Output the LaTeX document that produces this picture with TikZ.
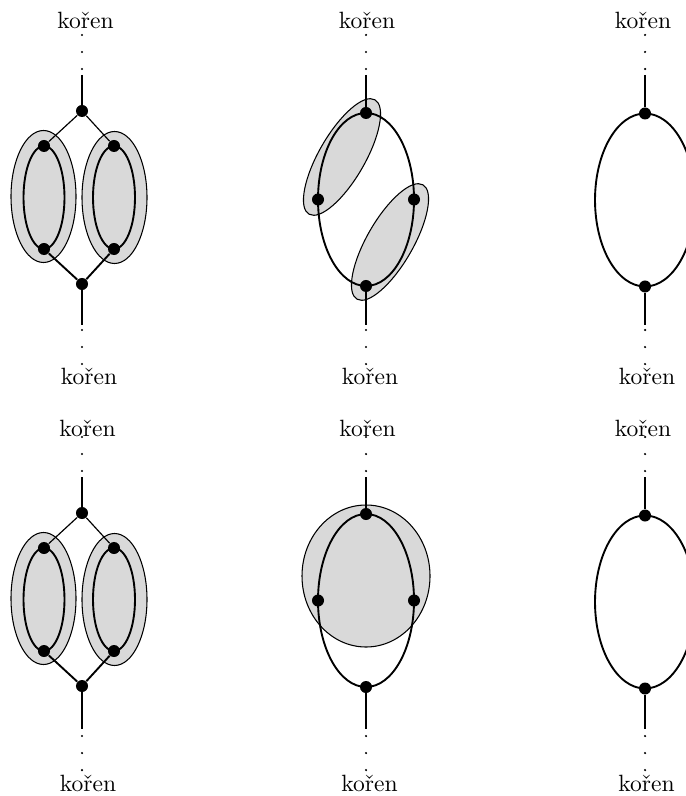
\documentclass[tikz,border=0pt]{standalone}
\begin{document}
\begin{tikzpicture}[x=0.4246pt,y=-0.4246pt,
  vtx/.style={circle,fill=black,inner sep=0pt,minimum size=5.1pt},
  stem/.style={line width=0.85pt},
  dotline/.style={line width=1.05pt,line cap=round,dash pattern=on 0pt off 7.22pt},
  loopline/.style={line width=0.8pt},
  blob/.style={draw=black,line width=0.45pt,fill=black!15},
  thinedge/.style={line width=0.5pt},
  thickedge/.style={line width=0.8pt},
  lab/.style={inner sep=0pt}]
\useasboundingbox (0,0) rectangle (685,796);

% ---------------- Panel 1 (top left) ----------------
\node[lab] (L1t) at (85.5,20) {kořen};
\node[lab] (L1b) at (89,376) {kořen};
\coordinate (d1t) at (82,35);
\coordinate (s1t) at (82,75);
\coordinate (s1b) at (82,325);
\coordinate (d1b) at (82,330);
\coordinate (e1b) at (82,367);
\draw[blob] (43.5,196.5) ellipse [x radius=32.5,y radius=66];
\draw[blob] (114.5,197.5) ellipse [x radius=32.5,y radius=66];
\draw[loopline] (44,197.5) ellipse [x radius=20.5,y radius=51.5];
\draw[loopline] (114,197.5) ellipse [x radius=21,y radius=51.5];
\node[vtx] (v1t) at (82,111) {};
\node[vtx] (v1a) at (44,146) {};
\node[vtx] (v1b) at (44,249) {};
\node[vtx] (v1c) at (114,146) {};
\node[vtx] (v1d) at (114,249) {};
\node[vtx] (v1e) at (82,284) {};
\draw[thinedge] (v1t) -- (v1a);
\draw[thinedge] (v1t) -- (v1c);
\draw[thickedge] (v1b) -- (v1e);
\draw[thickedge] (v1d) -- (v1e);
\draw[stem] (s1t) -- (v1t);
\draw[stem] (v1e) -- (s1b);
\draw[dotline] (d1t) -- (s1t);
\draw[dotline] (d1b) -- (e1b);

% ---------------- Panel 2 (top middle) ----------------
\node[lab] (L2t) at (367,20) {kořen};
\node[lab] (L2b) at (370,376) {kořen};
\coordinate (d2t) at (366,35);
\coordinate (s2t) at (366,75);
\coordinate (s2b) at (366,325);
\coordinate (d2b) at (366,330);
\coordinate (e2b) at (366,367);
\draw[blob,shift={(342,157)},rotate=60] (0,0) ellipse [x radius=66,y radius=23];
\draw[blob,shift={(390,242)},rotate=60] (0,0) ellipse [x radius=66,y radius=23];
\draw[loopline] (366,199.5) ellipse [x radius=48,y radius=86.5];
\node[vtx] (v2t) at (366,113) {};
\node[vtx] (v2l) at (318,199.5) {};
\node[vtx] (v2r) at (414,199.5) {};
\node[vtx] (v2b) at (366,286) {};
\draw[stem] (s2t) -- (v2t);
\draw[stem] (v2b) -- (s2b);
\draw[dotline] (d2t) -- (s2t);
\draw[dotline] (d2b) -- (e2b);

% ---------------- Panel 3 (top right) ----------------
\node[lab] (L3t) at (643,20) {kořen};
\node[lab] (L3b) at (647,376) {kořen};
\coordinate (d3t) at (645,35);
\coordinate (s3t) at (645,75);
\coordinate (s3b) at (645,325);
\coordinate (d3b) at (645,330);
\coordinate (e3b) at (645,367);
\draw[loopline] (645,200) ellipse [x radius=50,y radius=86.5];
\node[vtx] (v3t) at (645,113.5) {};
\node[vtx] (v3b) at (645,286.5) {};
\draw[stem] (s3t) -- (v3t);
\draw[stem] (v3b) -- (s3b);
\draw[dotline] (d3t) -- (s3t);
\draw[dotline] (d3b) -- (e3b);

% ---------------- Panel 4 (bottom left) ----------------
\node[lab] (L4t) at (87.5,428) {kořen};
\node[lab] (L4b) at (88,783) {kořen};
\coordinate (d4t) at (82,437);
\coordinate (s4t) at (82,477);
\coordinate (s4b) at (82,729);
\coordinate (d4b) at (82,736);
\coordinate (e4b) at (82,771);
\draw[blob] (43.5,598.5) ellipse [x radius=32.5,y radius=66];
\draw[blob] (114.5,599.5) ellipse [x radius=32.5,y radius=66];
\draw[loopline] (44,599.5) ellipse [x radius=20.5,y radius=51.5];
\draw[loopline] (114,599.5) ellipse [x radius=21,y radius=51.5];
\node[vtx] (v4t) at (82,513) {};
\node[vtx] (v4a) at (44,548) {};
\node[vtx] (v4b) at (44,651) {};
\node[vtx] (v4c) at (114,548) {};
\node[vtx] (v4d) at (114,651) {};
\node[vtx] (v4e) at (82,686) {};
\draw[thinedge] (v4t) -- (v4a);
\draw[thinedge] (v4t) -- (v4c);
\draw[thickedge] (v4b) -- (v4e);
\draw[thickedge] (v4d) -- (v4e);
\draw[stem] (s4t) -- (v4t);
\draw[stem] (v4e) -- (s4b);
\draw[dotline] (d4t) -- (s4t);
\draw[dotline] (d4b) -- (e4b);

% ---------------- Panel 5 (bottom middle) ----------------
\node[lab] (L5t) at (367.5,428) {kořen};
\node[lab] (L5b) at (369.5,783) {kořen};
\coordinate (d5t) at (366,437);
\coordinate (s5t) at (366,477);
\coordinate (s5b) at (366,729);
\coordinate (d5b) at (366,736);
\coordinate (e5b) at (366,771);
\draw[blob] (366,576) ellipse [x radius=64,y radius=71];
\draw[loopline] (366,600.5) ellipse [x radius=48,y radius=86.5];
\node[vtx] (v5t) at (366,514) {};
\node[vtx] (v5l) at (318,600.5) {};
\node[vtx] (v5r) at (414,600.5) {};
\node[vtx] (v5b) at (366,687) {};
\draw[stem] (s5t) -- (v5t);
\draw[stem] (v5b) -- (s5b);
\draw[dotline] (d5t) -- (s5t);
\draw[dotline] (d5b) -- (e5b);

% ---------------- Panel 6 (bottom right) ----------------
\node[lab] (L6t) at (643,428) {kořen};
\node[lab] (L6b) at (646.5,783) {kořen};
\coordinate (d6t) at (645,437);
\coordinate (s6t) at (645,477);
\coordinate (s6b) at (645,729);
\coordinate (d6b) at (645,736);
\coordinate (e6b) at (645,771);
\draw[loopline] (645,602) ellipse [x radius=50,y radius=86.5];
\node[vtx] (v6t) at (645,515.5) {};
\node[vtx] (v6b) at (645,688.5) {};
\draw[stem] (s6t) -- (v6t);
\draw[stem] (v6b) -- (s6b);
\draw[dotline] (d6t) -- (s6t);
\draw[dotline] (d6b) -- (e6b);
\end{tikzpicture}
\end{document}
